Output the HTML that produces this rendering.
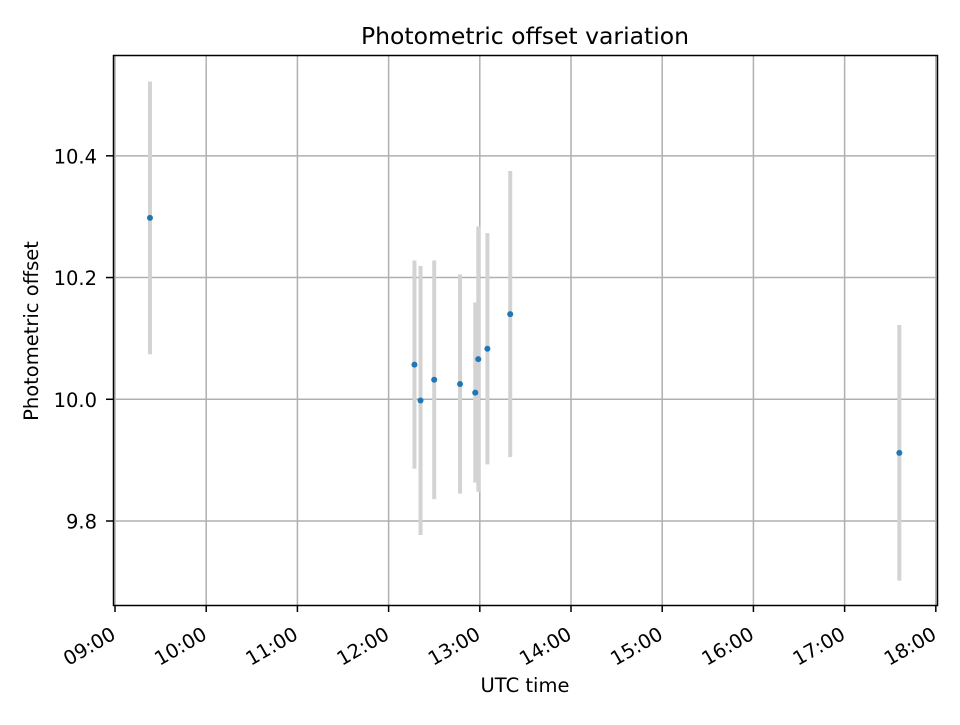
<!DOCTYPE html>
<html><head><meta charset="utf-8"><style>
body{margin:0;background:#fff;font-family:"Liberation Sans","DejaVu Sans",sans-serif}
</style></head><body>
<svg id="chart" width="960" height="720" xmlns="http://www.w3.org/2000/svg" font-family="DejaVu Sans, Liberation Sans, sans-serif">
<text x="525" y="44" text-anchor="middle" font-size="23.5">Photometric offset variation</text>
<g id="grid"></g>
<g id="bars"></g>
<g id="pts"></g>
<rect x="113.5" y="55.5" width="824" height="550" fill="none" stroke="#000" stroke-width="1.5"/>
<g id="xt"></g>
<g id="yt"></g>
<text x="525" y="692" text-anchor="middle" font-size="19.5">UTC time</text>
<text x="38" y="331" text-anchor="middle" font-size="19.5" transform="rotate(-90 38 331)">Photometric offset</text>
</svg>
<script>
const times=["09:23","12:17","12:21","12:30","12:47","12:57","12:59","13:05","13:20","17:36"];
const offsets=[10.298,10.057,9.998,10.032,10.025,10.011,10.066,10.083,10.140,9.912];
const errors=[0.224,0.171,0.221,0.196,0.180,0.148,0.218,0.190,0.235,0.210];
const xTickLabels=["09:00","10:00","11:00","12:00","13:00","14:00","15:00","16:00","17:00","18:00"];
const yTicks=[9.8,10.0,10.2,10.4];
const NS="http://www.w3.org/2000/svg";
const L=113,R=937,T=56,B=605,x0=-0.022,x1=9.013,y0=9.662,y1=10.564;
const hrs=s=>{const[p,q]=s.split(":").map(Number);return p+q/60-9;};
const X=h=>L+(h-x0)/(x1-x0)*(R-L);
const Y=v=>B-(v-y0)/(y1-y0)*(B-T);
function mk(tag,a,parent){const e=document.createElementNS(NS,tag);for(const k in a)e.setAttribute(k,a[k]);document.getElementById(parent).appendChild(e);return e;}
xTickLabels.forEach((t,i)=>{const x=X(hrs(t));
const g=mk("line",{x1:x,x2:x,y1:T,y2:B,stroke:"#b0b0b0","stroke-width":1.5},"grid");


const tk=mk("line",{x1:x,x2:x,y1:B,y2:B+7,stroke:"#000","stroke-width":1.5},"xt");


const ax=x+2,ay=B+33;
const tx=mk("text",{x:ax,y:ay,"text-anchor":"end","font-size":19.5,transform:`rotate(-30 ${ax} ${ay})`},"xt");
tx.textContent=t;

});
yTicks.forEach(v=>{const y=Y(v);
const g=mk("line",{x1:L,x2:R,y1:y,y2:y,stroke:"#b0b0b0","stroke-width":1.5},"grid");


const tk=mk("line",{x1:L-7,x2:L,y1:y,y2:y,stroke:"#000","stroke-width":1.5},"yt");


const tx=mk("text",{x:L-16,y:y+7.5,"text-anchor":"end","font-size":19.5},"yt");
tx.textContent=v.toFixed(1);

});
times.forEach((t,i)=>{const x=X(hrs(t));
const b=mk("line",{x1:x,x2:x,y1:Y(offsets[i]+errors[i]),y2:Y(offsets[i]-errors[i]),stroke:"#d3d3d3","stroke-width":4},"bars");


const c=mk("circle",{cx:x,cy:Y(offsets[i]),r:3,fill:"#1f77b4"},"pts");

});
</script>
</body></html>
